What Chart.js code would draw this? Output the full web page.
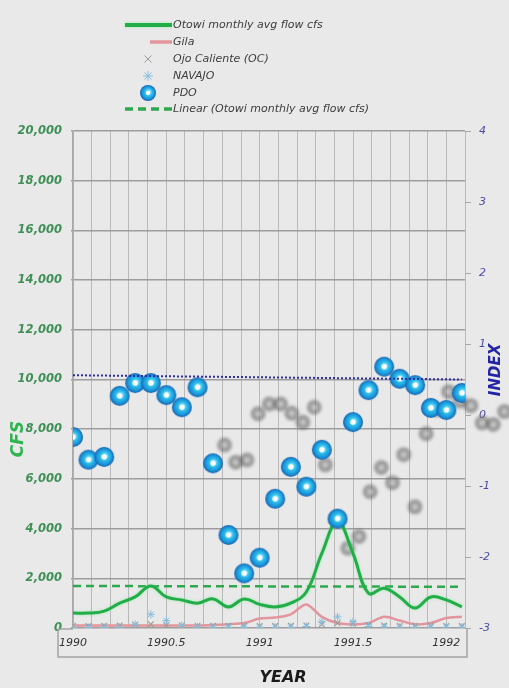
<!DOCTYPE html>
<html><head><meta charset="utf-8">
<script src="https://cdn.jsdelivr.net/npm/chart.js@4.4.1/dist/chart.umd.min.js"></script>
<style>html,body{margin:0;padding:0;background:#e9e9e9;}canvas{display:block}</style>
</head><body>
<canvas id="c" width="509" height="688"></canvas>
<script>
// ---- data ----
const months = [1990.000,1990.083,1990.167,1990.250,1990.333,1990.417,1990.500,1990.583,1990.667,1990.750,1990.833,1990.917,
                1991.000,1991.083,1991.167,1991.250,1991.333,1991.417,1991.500,1991.583,1991.667,1991.750,1991.833,1991.917,
                1992.000,1992.083];
const otowi = [600,600,680,1000,1250,1690,1250,1130,1000,1170,850,1170,
               950,850,1000,1450,3000,4300,3000,1400,1600,1250,800,1250,1130,850];
const gila = [100,100,100,100,100,100,100,100,100,120,150,200,
              380,420,550,950,450,200,150,200,450,300,150,200,400,450];
const ojoCaliente = [90,80,90,100,130,150,120,100,90,90,90,90,
                     80,80,90,100,150,200,180,120,100,90,90,80,80,80];
const navajo = [20,20,20,30,150,550,300,100,40,30,30,30,
                30,30,30,60,250,450,250,60,40,30,30,30,30,30];
const pdo = [-0.31,-0.63,-0.59,0.27,0.45,0.45,0.28,0.11,0.39,-0.68,-1.69,-2.23,
             -2.01,-1.18,-0.73,-1.01,-0.49,-1.46,-0.10,0.35,0.68,0.51,0.42,0.10,0.07,0.31];
const trendX = [1990.000, 1992.083];
const otowiTrend = [1690, 1660];
const pdoTrend = [0.56, 0.50];
const xLabelYears = [1990, 1990.5, 1991, 1991.5, 1992];

const pts = (xs, ys) => xs.map((x, i) => ({x, y: ys[i]}));
const FONT = "'DejaVu Sans', sans-serif";

function makePdoMarker(r) {
  const s = r * 2 + 4, c = document.createElement('canvas');
  c.width = s; c.height = s;
  const g = c.getContext('2d'), cx = s / 2, cy = s / 2;
  const grd = g.createRadialGradient(cx + 1, cy - 1, 1, cx, cy, r);
  grd.addColorStop(0, '#9fe9ff');
  grd.addColorStop(0.35, '#2fc0ee');
  grd.addColorStop(0.75, '#1a93d6');
  grd.addColorStop(1, '#1560b0');
  g.fillStyle = grd;
  g.beginPath(); g.arc(cx, cy, r, 0, Math.PI * 2); g.fill();
  g.fillStyle = '#ffffff';
  g.beginPath(); g.arc(cx, cy, r * 0.27, 0, Math.PI * 2); g.fill();
  return c;
}
const pdoMarker = makePdoMarker(10);
const pdoLegendMarker = makePdoMarker(8);

// grey perspective shadow of the PDO markers (as in the source)
const shadowPlugin = {
  id: 'pdoShadow',
  beforeDatasetsDraw(chart) {
    const idx = chart.data.datasets.findIndex(d => d.label === 'PDO');
    const meta = chart.getDatasetMeta(idx);
    const ctx = chart.ctx;
    ctx.save();
    ctx.filter = 'blur(1.6px)';
    meta.data.forEach(el => {
      const x = 0.72 * el.x + 172, y = 0.758 * el.y + 113.7;
      ctx.beginPath(); ctx.arc(x, y, 7.5, 0, Math.PI * 2);
      ctx.fillStyle = 'rgba(95,95,95,0.55)'; ctx.fill();
      ctx.beginPath(); ctx.arc(x, y, 2.8, 0, Math.PI * 2);
      ctx.fillStyle = 'rgba(215,215,215,0.7)'; ctx.fill();
    });
    ctx.restore();
  }
};

const glowPlugin = {
  id: 'glow',
  beforeDatasetDraw(chart, args) {
    const ds = chart.data.datasets[args.index];
    if (ds.glow) {
      chart.ctx.save();
      chart.ctx.shadowColor = ds.glow;
      chart.ctx.shadowBlur = 3;
    }
  },
  afterDatasetDraw(chart, args) {
    if (chart.data.datasets[args.index].glow) chart.ctx.restore();
  }
};

const decorPlugin = {
  id: 'decor',
  afterDraw(chart) {
    const ctx = chart.ctx, a = chart.chartArea, xs = chart.scales.x;
    // box around the x labels
    ctx.save();
    ctx.strokeStyle = '#a4a4a4'; ctx.lineWidth = 1.5;
    ctx.beginPath();
    ctx.moveTo(a.left - 15, a.bottom + 1);
    ctx.lineTo(a.left - 15, xs.bottom);
    ctx.lineTo(a.right + 2, xs.bottom);
    ctx.lineTo(a.right + 2, a.bottom);
    ctx.moveTo(a.left - 15, a.bottom + 1);
    ctx.lineTo(a.left, a.bottom + 1);
    ctx.stroke();
    ctx.restore();

    // axis titles
    ctx.save();
    ctx.textAlign = 'center'; ctx.textBaseline = 'middle';
    ctx.font = "italic bold 17px " + FONT;
    ctx.fillStyle = '#2cb54e';
    ctx.translate(19, 439); ctx.rotate(-Math.PI / 2); ctx.fillText('CFS', 0, 0);
    ctx.restore();
    ctx.save();
    ctx.textAlign = 'center'; ctx.textBaseline = 'middle';
    ctx.font = "italic bold 15px " + FONT;
    ctx.fillStyle = '#2323a8';
    ctx.translate(496, 370); ctx.rotate(-Math.PI / 2); ctx.fillText('INDEX', 0, 0);
    ctx.restore();
    ctx.save();
    ctx.textAlign = 'center'; ctx.textBaseline = 'middle';
    ctx.font = "italic bold 16px " + FONT;
    ctx.fillStyle = '#1a1a1a';
    ctx.fillText('YEAR', 283, 678);
    ctx.restore();

    // legend
    const rows = [25, 42, 59, 76, 93, 109];
    const tx = 173, mx = 148;
    ctx.save();
    ctx.font = "italic 11px " + FONT;
    ctx.textBaseline = 'middle'; ctx.textAlign = 'left';
    chart.data.datasets.forEach(ds => {
      if (ds.legendRow === undefined) return;
      const y = rows[ds.legendRow];
      ctx.save();
      if (ds.legendKind === 'line') {
        ctx.strokeStyle = ds.borderColor; ctx.lineWidth = ds.borderWidth + 1;
        if (ds.glow) { ctx.shadowColor = ds.glow; ctx.shadowBlur = 3; }
        ctx.setLineDash(ds.borderDash || []);
        ctx.beginPath(); ctx.moveTo(ds.legendFrom || 125, y); ctx.lineTo(172, y); ctx.stroke();
      } else if (ds.legendKind === 'marker') {
        if (ds.pointStyle instanceof HTMLCanvasElement) {
          ctx.drawImage(pdoLegendMarker, mx - pdoLegendMarker.width / 2, y - pdoLegendMarker.height / 2);
        } else {
          ctx.strokeStyle = ds.pointBorderColor;
          ctx.fillStyle = ds.pointBorderColor;
          Chart.helpers.drawPoint(ctx, {pointStyle: ds.pointStyle, radius: 5, borderWidth: 1.5}, mx, y);
        }
      }
      ctx.restore();
      ctx.fillStyle = '#3c3c3c';
      ctx.fillText(ds.label, tx, y);
    });
    ctx.restore();
  }
};

const ctx = document.getElementById('c').getContext('2d');
new Chart(ctx, {
  type: 'scatter',
  data: {
    datasets: [
      { label: 'PDO', data: pts(months, pdo), yAxisID: 'y1', showLine: false,
        pointStyle: pdoMarker, pointRadius: 10, order: 1, legendRow: 4, legendKind: 'marker' },
      { label: 'PDO trend', data: pts(trendX, pdoTrend), yAxisID: 'y1', showLine: true,
        borderColor: '#2e2ea6', borderWidth: 2, borderDash: [2, 2], pointRadius: 0, order: 0 },
      { label: 'Otowi monthly avg flow cfs', data: pts(months, otowi), yAxisID: 'y', showLine: true,
        borderColor: '#22ad48', borderWidth: 3, tension: 0.4, pointRadius: 0, order: 2,
        glow: 'rgba(120,235,150,0.7)', legendRow: 0, legendKind: 'line' },
      { label: 'Linear (Otowi monthly avg flow cfs)', data: pts(trendX, otowiTrend), yAxisID: 'y', showLine: true,
        borderColor: '#2ea84c', borderWidth: 2.5, borderDash: [8, 5], pointRadius: 0, order: 3,
        legendRow: 5, legendKind: 'line' },
      { label: 'NAVAJO', data: pts(months, navajo), yAxisID: 'y', showLine: false,
        pointStyle: 'star', pointRadius: 4, pointBorderWidth: 1, pointBorderColor: '#86bedb',
        pointBackgroundColor: '#86bedb', order: 4, legendRow: 3, legendKind: 'marker' },
      { label: 'Ojo Caliente (OC)', data: pts(months, ojoCaliente), yAxisID: 'y', showLine: false,
        pointStyle: 'crossRot', pointRadius: 4, pointBorderWidth: 1.2, pointBorderColor: '#9c9c9c',
        pointBackgroundColor: '#9c9c9c', order: 5, legendRow: 2, legendKind: 'marker' },
      { label: 'Gila', data: pts(months, gila), yAxisID: 'y', showLine: true,
        borderColor: '#e2959c', borderWidth: 2.5, tension: 0.3, pointRadius: 0, order: 6,
        legendRow: 1, legendKind: 'line', legendFrom: 150 }
    ]
  },
  options: {
    responsive: false, animation: false,
    layout: { padding: { top: 131, bottom: 31, left: 0, right: 0 } },
    plugins: { legend: { display: false }, tooltip: { enabled: false } },
    scales: {
      x: {
        type: 'linear', min: 1990, max: 1992.1,
        afterFit: s => { s.height = 29; },
        ticks: {
          stepSize: 0.1, autoSkip: false, maxRotation: 0, padding: 9,
          color: '#333', font: { family: FONT, size: 11, style: 'italic' },
          callback: v => xLabelYears.some(y => Math.abs(y - v) < 1e-6) ? String(Math.round(v * 10) / 10) : ''
        },
        grid: { color: '#b9b9b9', lineWidth: 1, drawTicks: false },
        border: { display: false }
      },
      y: {
        position: 'left', min: 0, max: 20000,
        afterFit: s => { s.width = 73; },
        ticks: { stepSize: 2000, padding: 9, color: '#3e8f56',
          font: { family: FONT, size: 11.5, style: 'italic', weight: 'bold' },
          callback: v => v.toLocaleString('en-US') },
        grid: { color: '#9d9d9d', lineWidth: 1.5, tickLength: 2 },
        border: { color: '#a8a8a8', width: 1.5 }
      },
      y1: {
        position: 'right', min: -3, max: 4,
        afterFit: s => { s.width = 44; },
        ticks: { stepSize: 1, padding: 8, color: '#4b4ba6',
          font: { family: FONT, size: 11, style: 'italic' } },
        grid: { drawOnChartArea: false, color: '#a8a8a8', lineWidth: 1, tickLength: 6 },
        border: { display: false }
      }
    }
  },
  plugins: [shadowPlugin, glowPlugin, decorPlugin]
});
</script>
</body></html>
